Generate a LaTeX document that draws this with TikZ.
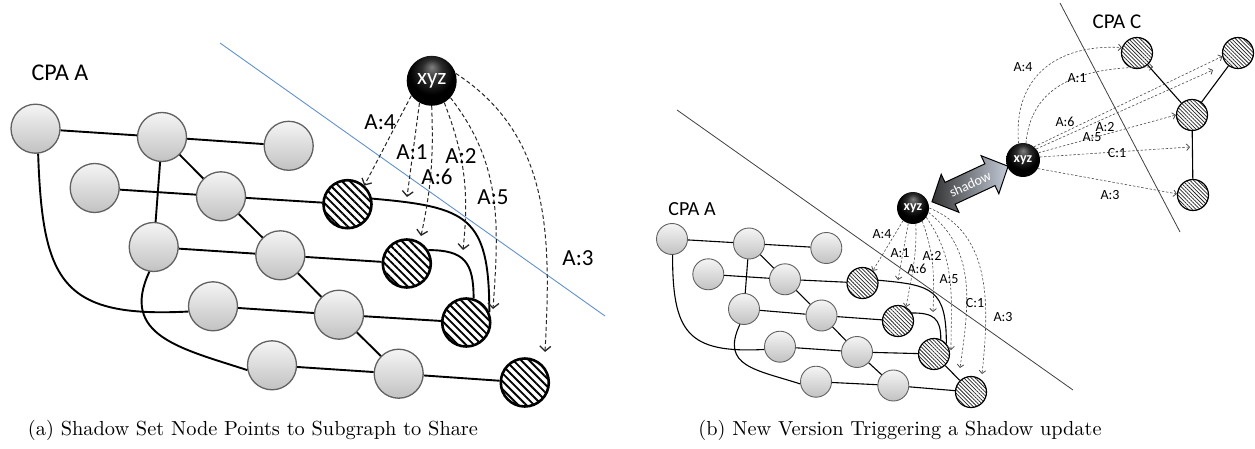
\documentclass[tikz,border=0pt]{standalone}
\usepackage{fontspec}
\newfontfamily\sanslab{Carlito}
\usetikzlibrary{arrows.meta,patterns.meta}
\definecolor{cutblue}{RGB}{98,146,204}
\definecolor{shadowlight}{RGB}{196,203,216}
\pgfdeclareradialshading{orbshade}{\pgfpoint{0bp}{14bp}}{color(0bp)=(black!50);color(10bp)=(black!82);color(22bp)=(black);color(50bp)=(black)}
\begin{document}
\begin{tikzpicture}[x=1pt,y=-1pt,
  greynode/.style={circle,draw=black!62,line width=1.3pt,minimum size=49pt,inner sep=0pt,top color=black!4,bottom color=black!24},
  greysmall/.style={greynode,line width=0.9pt,minimum size=31pt},
  hatchnode/.style={circle,draw=black,line width=2.6pt,minimum size=48pt,inner sep=0pt,preaction={fill=white},pattern={Lines[angle=-45,distance=5.6pt,line width=1.9pt]}},
  hatchsmall/.style={circle,draw=black,line width=1.2pt,minimum size=31pt,inner sep=0pt,preaction={fill=white},pattern={Lines[angle=-45,distance=2.7pt,line width=0.75pt]},pattern color=black!85},
  orb/.style={circle,inner sep=0pt,minimum size=#1,shading=orbshade,text=white},
  wire/.style={line width=1.9pt},
  wiresmall/.style={line width=1.1pt},
  ptr/.style={draw=black!85,line width=1pt,dash pattern=on 4pt off 2.6pt,-{Straight Barb[length=5pt,width=11pt,line width=1.3pt]}},
  ptrsmall/.style={draw=black!70,line width=0.6pt,dash pattern=on 2.4pt off 1.8pt,-{Straight Barb[length=3pt,width=6.5pt,line width=0.8pt]}},
  bigtag/.style={inner sep=0pt,font=\sanslab\fontsize{23}{24}\selectfont},
  smalltag/.style={inner sep=0pt,font=\sanslab\fontsize{14}{15}\selectfont},
]
\useasboundingbox (0,0) rectangle (1255,449);

% ---------------- (a) ----------------
\draw[cutblue,line width=0.9pt] (220,43) -- (605,316);
\node[bigtag,font=\sanslab\fontsize{24}{25}\selectfont] (cpaA) at (60,73) {CPA A};

\node[greynode] (n1) at (35.5,128.7) {};
\node[greynode] (n2) at (162,137) {};
\node[greynode] (n3) at (288.7,145.8) {};
\node[greynode] (n4) at (94.7,188) {};
\node[greynode] (n5) at (221,196.3) {};
\node[greynode] (n6) at (153.7,247) {};
\node[greynode] (n7) at (280.3,255.3) {};
\node[greynode] (n8) at (213,306.3) {};
\node[greynode] (n9) at (339,314.7) {};
\node[greynode] (n10) at (272,365.3) {};
\node[greynode] (n11) at (398.7,373.7) {};
\node[hatchnode] (h1) at (347.5,204.2) {};
\node[hatchnode] (h2) at (406.8,263.5) {};
\node[hatchnode] (h3) at (466.2,322.5) {};
\node[hatchnode] (h4) at (524.8,382.5) {};
\node[orb=50pt,font=\sanslab\fontsize{23}{24}\selectfont] (xa) at (431.7,80.8) {xyz};

\draw[wire] (n1) -- (n2) (n2) -- (n3) (n2) -- (n5) (n2) -- (n6)
  (n4) -- (n5) (n5) -- (h1) (n5) -- (n7) (n6) -- (n7) (n7) -- (h2)
  (n7) -- (n9) (n8) -- (n9) (n9) -- (h3) (n9) -- (n11) (n10) -- (n11) (n11) -- (h4);
\draw[wire] (n1.-84) to[out=-88,in=183,looseness=1.5] (n8.192);
\draw[wire] (n6.-100) to[out=-115,in=162,looseness=1.3] (n10.191);
\draw[wire] (h1.13) to[out=-5,in=90,looseness=1.5] (h3.24);
\draw[wire] (h2.32) to[out=0,in=90,looseness=1.4] (h3.73);

\coordinate (ea1) at (407,197);
\coordinate (ea2) at (463,250);
\coordinate (ea3) at (545,352);
\coordinate (ea5) at (493,309);
\coordinate (ea6) at (421,236);
\draw[ptr] (xa.216) -- (h1.48);
\draw[ptr] (xa.241) -- (ea1);
\draw[ptr] (xa.270) to[out=-88,in=78] (ea6);
\draw[ptr] (xa.300) to[out=-69,in=84] (ea2);
\draw[ptr] (xa.318) to[out=-52,in=86] (ea5);
\draw[ptr] (xa.17) to[out=-33,in=87] (ea3);

\node[bigtag] (la4) at (380,122) {A:4};
\node[bigtag] (la1) at (412,152) {A:1};
\node[bigtag] (la2) at (461,156) {A:2};
\node[bigtag] (la6) at (437,177) {A:6};
\node[bigtag] (la5) at (493,197) {A:5};
\node[bigtag] (la3) at (578,258) {A:3};

\node (capa) at (253,430) {\resizebox{450pt}{!}{(a) Shadow Set Node Points to Subgraph to Share}};

% ---------------- (b) ----------------
\draw[black!75,line width=0.8pt] (677,110) -- (1073,390);
\node[bigtag,font=\sanslab\fontsize{20}{21}\selectfont] (cpaB) at (692,209) {CPA A};

\node[greysmall] (m1) at (672,239) {};
\node[greysmall] (m2) at (749,243.5) {};
\node[greysmall] (m3) at (826.3,248) {};
\node[greysmall] (m4) at (708.3,274.3) {};
\node[greysmall] (m5) at (785,279.3) {};
\node[greysmall] (m6) at (744,309) {};
\node[greysmall] (m7) at (821.5,315.5) {};
\node[greysmall] (m8) at (780,346.7) {};
\node[greysmall] (m9) at (857,352) {};
\node[greysmall] (m10) at (816,381.7) {};
\node[greysmall] (m11) at (893.3,385.5) {};
\node[hatchsmall] (g1) at (862.5,283) {};
\node[hatchsmall] (g2) at (898,321) {};
\node[hatchsmall] (g3) at (934,354) {};
\node[hatchsmall] (g4) at (971,392) {};
\node[orb=32pt,font=\sanslab\bfseries\fontsize{14}{15}\selectfont] (xb) at (913,208) {xyz};

\draw[wiresmall] (m1) -- (m2) (m2) -- (m3) (m2) -- (m5) (m2) -- (m6)
  (m4) -- (m5) (m5) -- (g1) (m5) -- (m7) (m6) -- (m7) (m7) -- (g2)
  (m7) -- (m9) (m8) -- (m9) (m9) -- (g3) (m9) -- (m11) (m10) -- (m11) (m11) -- (g4)
  (g3) -- (g4);
\draw[wiresmall] (m1.-88) to[out=-90,in=183,looseness=1.5] (m8.190);
\draw[wiresmall] (m6.-105) to[out=-115,in=162,looseness=1.4] (m10.188);
\draw[wiresmall] (g1.10) to[out=-5,in=90,looseness=1.5] (g3.40);
\draw[wiresmall] (g2.30) to[out=0,in=90,looseness=1.4] (g3.65);

\coordinate (eb1) at (898,280);
\coordinate (eb2) at (933,312);
\coordinate (eb5) at (951,350);
\coordinate (ebc) at (960,368);
\coordinate (eb3) at (982,374);
\draw[ptrsmall] (xb.232) -- (g1.50);
\draw[ptrsmall] (xb.253) -- (eb1);
\draw[ptrsmall] (xb.280) to[out=-88,in=80] (g2.60);
\draw[ptrsmall] (xb.305) to[out=-70,in=88] (eb2);
\draw[ptrsmall] (xb.325) to[out=-55,in=90] (eb5);
\draw[ptrsmall] (xb.344) to[out=-38,in=82] (ebc);
\draw[ptrsmall] (xb.0) to[out=-22,in=84] (eb3);

\node[smalltag] (lb4) at (882,234) {A:4};
\node[smalltag] (lb1) at (900,253) {A:1};
\node[smalltag] (lb2) at (932,256) {A:2};
\node[smalltag] (lb6) at (917,269) {A:6};
\node[smalltag] (lb5) at (949,279) {A:5};
\node[smalltag] (lbc) at (975,303) {C:1};
\node[smalltag] (lb3) at (1003,317) {A:3};

% shadow link between the two xyz nodes
\begin{scope}[shift={(970,184)},rotate=25]
  \path[draw=black,line width=1pt,left color=black!80,right color=shadowlight]
    (-42,0) -- (-22,21) -- (-22,12) -- (22,12) -- (22,21) -- (42,0)
    -- (22,-21) -- (22,-12) -- (-22,-12) -- (-22,-21) -- cycle;
  \node[transform shape,text=white,inner sep=0pt,font=\sanslab\fontsize{14}{15}\selectfont] (shadowtxt) at (0,0) {shadow};
\end{scope}

% CPA C cluster
\draw[black!75,line width=0.8pt] (1060,3) -- (1180,232);
\node[bigtag,font=\sanslab\fontsize{21}{22}\selectfont] (cpaC) at (1117,22) {CPA C};
\node[hatchsmall] (c1) at (1137,53) {};
\node[hatchsmall] (c2) at (1238,53) {};
\node[hatchsmall] (c3) at (1192,115) {};
\node[hatchsmall] (c4) at (1193,195) {};
\node[orb=34pt,font=\sanslab\bfseries\fontsize{14}{15}\selectfont] (xc) at (1023,160) {xyz};
\draw[wiresmall] (c1) -- (c3) (c2) -- (c3) (c3) -- (c4);

\coordinate (ec1) at (1153,67);
\coordinate (ec2) at (1213,70);
\coordinate (ecc) at (1190,147);
\draw[ptrsmall] (xc.105) to[out=95,in=177,looseness=1.2] (c1.160);
\draw[ptrsmall] (xc.80) to[out=85,in=180,looseness=1.1] (ec1);
\draw[ptrsmall] (xc.50) -- (c2.192);
\draw[ptrsmall] (xc.40) -- (ec2);
\draw[ptrsmall] (xc.25) -- (c3.180);
\draw[ptrsmall] (xc.10) -- (ecc);
\draw[ptrsmall] (xc.-30) -- (c4.176);

\node[smalltag] (lc4) at (1023,67) {A:4};
\node[smalltag] (lc1) at (1077,78) {A:1};
\node[smalltag] (lc6) at (1065,122) {A:6};
\node[smalltag] (lc2) at (1105,127) {A:2};
\node[smalltag] (lc5) at (1092,137) {A:5};
\node[smalltag] (lcc) at (1117,153) {C:1};
\node[smalltag] (lc3) at (1110,195) {A:3};

\node (capb) at (900,430) {\resizebox{403pt}{!}{(b) New Version Triggering a Shadow update}};
\end{tikzpicture}
\end{document}
